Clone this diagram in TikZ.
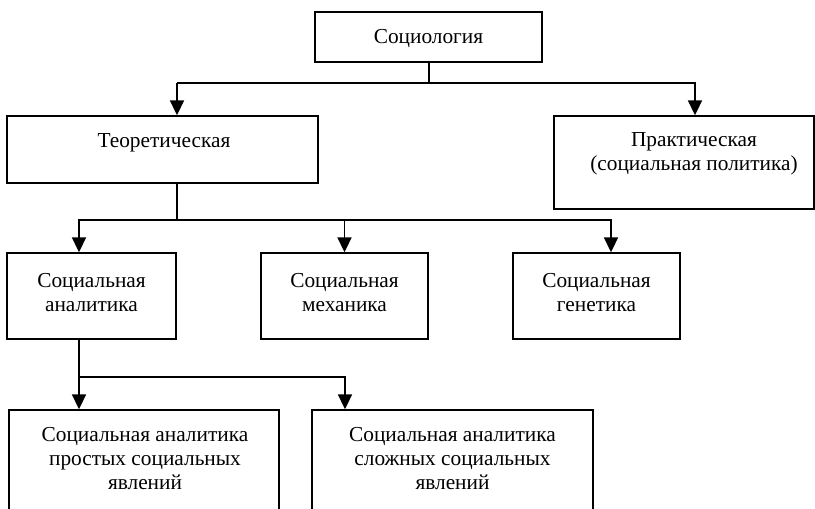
\documentclass[tikz,border=0pt]{standalone}
\usepackage{fontspec}
\setmainfont{Liberation Serif}
\usetikzlibrary{arrows.meta}
\begin{document}
\begin{tikzpicture}[x=0.75pt,y=-0.75pt,
  box/.style={draw=black, line width=1.3pt, rectangle, inner sep=0pt},
  txt/.style={font=\fontsize{16}{18}\selectfont, align=center, inner sep=0pt, anchor=base},
  conn/.style={draw=black, line width=1.3pt},
  stem/.style={draw=black, line width=0.9pt},
  arr/.style={conn, -{Triangle[width=10.5pt,length=11pt]}}]
\useasboundingbox (0,0) rectangle (815,508);
% boxes
\node[box, minimum width=170.25pt, minimum height=37.5pt] (soc) at (428.5,37) {};
\node[box, minimum width=233.25pt, minimum height=50.25pt] (teor) at (162.5,149.5) {};
\node[box, minimum width=195pt, minimum height=69.75pt] (prakt) at (684,162.5) {};
\node[box, minimum width=126.75pt, minimum height=64.5pt] (an) at (91.5,296) {};
\node[box, minimum width=125.25pt, minimum height=64.5pt] (mech) at (344.5,296) {};
\node[box, minimum width=125.25pt, minimum height=64.5pt] (gen) at (596.5,296) {};
\node[box, minimum width=202.5pt, minimum height=90pt] (pr) at (144,470) {};
\node[box, minimum width=210.75pt, minimum height=90pt] (sl) at (452.5,470) {};
% texts (base = baseline of the last line)
\node[txt] (tsoc) at (428.5,43) {Социология};
\node[txt] (tteor) at (164,147) {Теоретическая};
\node[txt] (tprakt) at (694,170) {Практическая\\(социальная политика)};
\node[txt] (tan) at (91.5,311) {Социальная\\аналитика};
\node[txt] (tmech) at (344.5,311) {Социальная\\механика};
\node[txt] (tgen) at (596.5,311) {Социальная\\генетика};
\node[txt] (tpr) at (145,489) {Социальная аналитика\\простых социальных\\явлений};
\node[txt] (tsl) at (452.5,489) {Социальная аналитика\\сложных социальных\\явлений};
% junctions
\coordinate (j1) at (429,83);
\coordinate (j2) at (177,220);
\coordinate (j3) at (79,377);
% connectors
\draw[stem] (soc.south -| j1) -- (j1);
\draw[conn] (j1) -- (177,83);
\draw[arr] (177,83) -- (177,0 |- teor.north);
\draw[arr] (j1) -| (695,0 |- prakt.north);
\draw[stem] (teor.south -| j2) -- (j2);
\draw[arr] (j2) -| (an.north -| 79,0);
\draw[arr] (j2) -| (mech.north);
\draw[arr] (j2) -| (611,0 |- gen.north);
\draw[conn] (an.south -| j3) -- (j3);
\draw[arr] (j3) -- (pr.north -| j3);
\draw[arr] (j3) -| (345,0 |- sl.north);
\end{tikzpicture}
\end{document}
